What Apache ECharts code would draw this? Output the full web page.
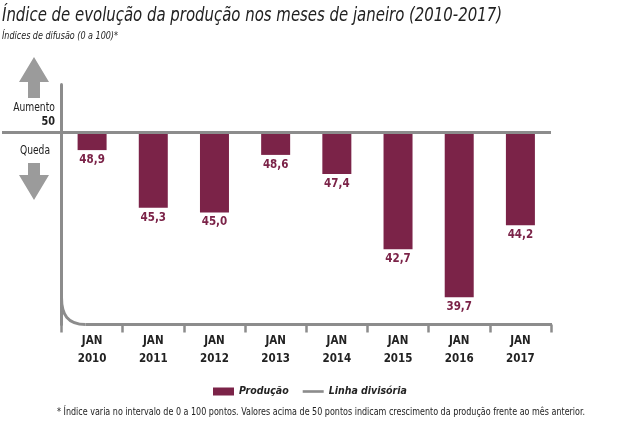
<!DOCTYPE html>
<html>
<head>
<meta charset="utf-8">
<script src="https://cdn.jsdelivr.net/npm/echarts@6/dist/echarts.min.js"></script>
<style>
html,body{margin:0;padding:0;background:#fff;}
#c{width:640px;height:424px;}
</style>
</head>
<body>
<div id="c"></div>
<script>
const TITLE = 'Índice de evolução da produção nos meses de janeiro (2010-2017)';
const SUBTITLE = 'Índices de difusão (0 a 100)*';
const FOOTNOTE = '* Índice varia no intervalo de 0 a 100 pontos. Valores acima de 50 pontos indicam crescimento da produção frente ao mês anterior.';
const CATEGORIES = ['JAN\n2010','JAN\n2011','JAN\n2012','JAN\n2013','JAN\n2014','JAN\n2015','JAN\n2016','JAN\n2017'];
const PRODUCAO = [48.9, 45.3, 45.0, 48.6, 47.4, 42.7, 39.7, 44.2];
const DIVISOR = 50;
const Y_MIN = 38, Y_MAX = 53;

const FONT = "'DejaVu Sans Condensed', 'Liberation Sans', sans-serif";
const BAR = '#7b2348';
const GREY = '#8c8c8c';
const ARROW = '#9b9b9b';
const TEXT = '#222222';

const measureCtx = document.createElement('canvas').getContext('2d');
function fitScale(text, font, targetWidth) {
  measureCtx.font = font;
  const w = measureCtx.measureText(text).width;
  return Math.min(1, targetWidth / w);
}

const chart = echarts.init(document.getElementById('c'), null, {renderer:'canvas'});

const option = {
  animation: false,
  textStyle: {fontFamily: FONT},
  legend: {
    data: [
      {name: 'Produção', icon: 'rect'},
      {name: 'Linha divisória', icon: 'path://M0,0 L24,0 L24,3 L0,3 Z', itemStyle: {color: GREY}}
    ],
    left: 208, top: 381,
    itemWidth: 21, itemHeight: 8, itemGap: 14,
    textStyle: {fontFamily: FONT, fontSize: 10.5, fontStyle: 'italic', fontWeight: 'bold', color: TEXT}
  },
  grid: {left: 61.5, right: 89, top: 84.5, bottom: 99.5, containLabel: false},
  xAxis: {
    type: 'category',
    data: CATEGORIES,
    boundaryGap: true,
    axisLine: {show: false},
    axisTick: {show: true, length: 8, alignWithLabel: false, lineStyle: {color: GREY, width: 2.5}},
    axisLabel: {fontFamily: FONT, fontSize: 11.5, fontWeight: 'bold', color: TEXT, lineHeight: 18, margin: 8, interval: 0}
  },
  yAxis: {
    type: 'value', min: Y_MIN, max: Y_MAX,
    axisLine: {show: true, lineStyle: {color: GREY, width: 3}},
    axisTick: {show: false}, axisLabel: {show: false}, splitLine: {show: false}
  },
  series: [
    {
      name: 'base', type: 'bar', stack: 'p', data: PRODUCAO, barWidth: 29,
      itemStyle: {color: 'rgba(0,0,0,0)'}, silent: true
    },
    {
      name: 'Produção', type: 'bar', stack: 'p', barWidth: 29,
      data: PRODUCAO.map(v => +(DIVISOR - v).toFixed(1)),
      itemStyle: {color: BAR},
      label: {
        show: true, position: 'bottom', distance: 4,
        fontFamily: FONT, fontSize: 11.5, fontWeight: 'bold', color: BAR,
        formatter: p => PRODUCAO[p.dataIndex].toFixed(1).replace('.', ',')
      }
    },
    {
      name: 'Linha divisória', type: 'line', data: [], symbol: 'none', showSymbol: false,
      lineStyle: {color: GREY, width: 3}, itemStyle: {color: GREY},
      markLine: {
        silent: true, symbol: 'none', label: {show: false},
        lineStyle: {color: GREY, width: 3, type: 'solid'},
        data: [{yAxis: DIVISOR}]
      },
      z: 5
    }
  ]
};
chart.setOption(option);

function decorate() {
  const c0 = chart.convertToPixel({xAxisIndex: 0}, CATEGORIES[0]);
  const c1 = chart.convertToPixel({xAxisIndex: 0}, CATEGORIES[1]);
  const cN = chart.convertToPixel({xAxisIndex: 0}, CATEGORIES[CATEGORIES.length - 1]);
  const band = c1 - c0;
  const left = c0 - band / 2;
  const right = cN + band / 2;
  const yB = chart.convertToPixel({yAxisIndex: 0}, Y_MIN);
  const yD = chart.convertToPixel({yAxisIndex: 0}, DIVISOR);
  const cx = 34;
  const titleFont = 'italic 20px ' + FONT;
  const subFont = 'italic 11px ' + FONT;
  const footFont = '11px ' + FONT;
  const sT = fitScale(TITLE, titleFont, 500);
  const sS = fitScale(SUBTITLE, subFont, 116);
  const sF = fitScale(FOOTNOTE, footFont, 528);
  chart.setOption({
    graphic: [
      {type: 'text', x: 2, y: 16, scaleX: sT, style: {text: TITLE, font: titleFont, fill: TEXT, align: 'left', verticalAlign: 'middle'}},
      {type: 'text', x: 2, y: 36, scaleX: sS, style: {text: SUBTITLE, font: subFont, fill: TEXT, align: 'left', verticalAlign: 'middle'}},
      {type: 'text', x: 321, y: 412, scaleX: sF, style: {text: FOOTNOTE, font: footFont, fill: TEXT, align: 'center', verticalAlign: 'middle'}},
      // rounded corner of the bottom axis line
      {type: 'bezierCurve', shape: {x1: left, y1: yB - 27, cpx1: left, cpy1: yB - 10, cpx2: left + 6, cpy2: yB, x2: left + 24, y2: yB},
        style: {stroke: GREY, lineWidth: 3, fill: null}, z: 10},
      {type: 'line', shape: {x1: left + 24, y1: yB, x2: right + 1, y2: yB}, style: {stroke: GREY, lineWidth: 3}, z: 10},
      // extension of the dividing line to the left
      {type: 'line', shape: {x1: 2, y1: yD, x2: left, y2: yD}, style: {stroke: GREY, lineWidth: 3}, z: 10},
      // up arrow
      {type: 'polygon', shape: {points: [[cx, 57], [49, 82], [40, 82], [40, 98], [28, 98], [28, 82], [19, 82]]}, style: {fill: ARROW}},
      // down arrow
      {type: 'polygon', shape: {points: [[28, 163], [40, 163], [40, 175], [49, 175], [cx, 200], [19, 175], [28, 175]]}, style: {fill: ARROW}},
      {type: 'text', x: cx, y: 108, scaleX: 0.85, style: {text: 'Aumento', font: '12px ' + FONT, fill: TEXT, align: 'center', verticalAlign: 'middle'}},
      {type: 'text', x: 55, y: 122, scaleX: 0.9, style: {text: String(DIVISOR), font: 'bold 12px ' + FONT, fill: TEXT, align: 'right', verticalAlign: 'middle'}},
      {type: 'text', x: 35, y: 151, scaleX: 0.85, style: {text: 'Queda', font: '12px ' + FONT, fill: TEXT, align: 'center', verticalAlign: 'middle'}}
    ]
  });
}
decorate();
</script>
</body>
</html>
